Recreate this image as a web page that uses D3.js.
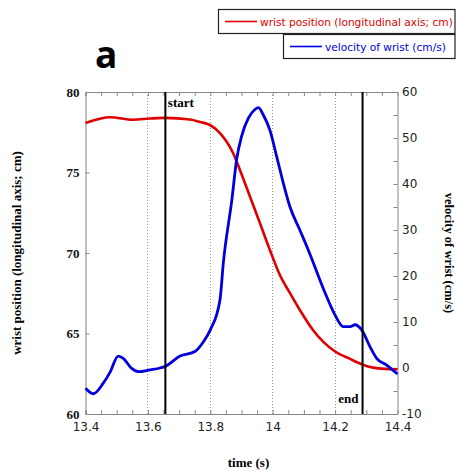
<!DOCTYPE html>
<html>
<head>
<meta charset="utf-8">
<script src="https://cdn.jsdelivr.net/npm/d3@7"></script>
<style>
body { margin: 0; background: #fff; }
svg { display: block; }
</style>
</head>
<body>
<div id="chart"></div>
<script>

// wrist position (cm)
var posTime = [13.400, 13.479, 13.552, 13.607, 13.655, 13.735, 13.767, 13.799, 13.831, 13.873,
               13.895, 13.927, 13.959, 13.991, 14.023, 14.055, 14.087, 14.129, 14.200, 14.248,
               14.287, 14.322, 14.360, 14.400];
var posCm = [78.07, 78.43, 78.28, 78.35, 78.39, 78.29, 78.14, 77.95, 77.45, 76.21,
             75.16, 73.51, 71.86, 70.19, 68.63, 67.52, 66.46, 65.22, 63.88, 63.42,
             63.08, 62.88, 62.80, 62.78];

// wrist velocity (cm/s)
var velTime = [13.400, 13.425, 13.457, 13.478, 13.505, 13.521, 13.548, 13.569, 13.607, 13.639,
               13.657, 13.703, 13.751, 13.778, 13.800, 13.831, 13.842, 13.869, 13.885, 13.900,
               13.922, 13.943, 13.954, 13.970, 13.991, 14.013, 14.034, 14.055, 14.087, 14.115,
               14.162, 14.200, 14.226, 14.248, 14.264, 14.285, 14.312, 14.333, 14.365, 14.400];
var velCms = [-4.4, -5.6, -3.3, -1.0, 2.6, 2.1, -0.1, -0.8, -0.4, 0.0,
              0.4, 2.6, 3.6, 5.7, 8.3, 14.8, 23.0, 36.5, 45.6, 50.3,
              54.3, 56.2, 56.6, 55.0, 51.7, 45.9, 40.2, 35.1, 30.0, 25.5,
              17.3, 11.5, 9.0, 9.0, 9.4, 8.3, 4.6, 2.1, 0.65, -1.3];

var timeTicks = [13.4, 13.6, 13.8, 14, 14.2, 14.4];
var timeLabels = ['13.4', '13.6', '13.8', '14', '14.2', '14.4'];
var gridTimes = [13.6, 13.8, 14, 14.2];
var posTicks = [60, 65, 70, 75, 80];
var velTicks = [-10, 0, 10, 20, 30, 40, 50, 60];
var markTimes = [13.656, 14.288];
var markLabels = ['start', 'end'];
var legendLabels = ['wrist position (longitudinal axis; cm)', 'velocity of wrist (cm/s)'];

var W = 456, H = 473;
var margin = { top: 92, right: 58.5, bottom: 59, left: 85.5 };
var width = W - margin.left - margin.right,
    height = H - margin.top - margin.bottom;

var serif = '"Liberation Serif", "Times New Roman", serif';
var sans = '"DejaVu Sans", Verdana, sans-serif';

var svg = d3.select('#chart').append('svg')
  .attr('width', W)
  .attr('height', H);

var x = d3.scaleLinear().domain([13.4, 14.4]).range([0, width]);
var yL = d3.scaleLinear().domain([60, 80]).range([height, 0]);
var yR = d3.scaleLinear().domain([-10, 60]).range([height, 0]);

var g = svg.append('g')
  .attr('transform', 'translate(' + margin.left + ',' + margin.top + ')');

// dotted gridlines
g.selectAll('.grid')
  .data(gridTimes)
  .enter().append('line')
  .attr('class', 'grid')
  .attr('x1', function(d) { return Math.round(x(d)); })
  .attr('x2', function(d) { return Math.round(x(d)); })
  .attr('y1', 0)
  .attr('y2', height)
  .attr('stroke', '#999')
  .attr('stroke-dasharray', '1,2');

// frame: top and bottom, minor ticks pointing in
g.append('g')
  .call(d3.axisTop(x).ticks(20).tickSizeInner(-4).tickSizeOuter(0).tickFormat(''))
  .call(function(a) { a.selectAll('path, line').attr('stroke', '#888'); });

g.append('g')
  .attr('transform', 'translate(0,' + height + ')')
  .call(d3.axisBottom(x).ticks(20).tickSizeInner(-4).tickSizeOuter(0).tickFormat(''))
  .call(function(a) { a.selectAll('path, line').attr('stroke', '#888'); });

// bottom labels
g.append('g')
  .attr('transform', 'translate(0,' + height + ')')
  .call(d3.axisBottom(x).tickValues(timeTicks).tickSize(0).tickPadding(8.5)
    .tickFormat(function(d, i) { return timeLabels[i]; }))
  .call(function(a) {
    a.select('.domain').remove();
    a.selectAll('text').attr('font-family', sans).attr('font-size', 12).attr('fill', '#222');
  });

// right axis (velocity)
g.append('g')
  .attr('transform', 'translate(' + width + ',0)')
  .call(d3.axisRight(yR).ticks(14).tickSizeInner(-4).tickSizeOuter(0).tickPadding(4.5)
    .tickFormat(function(d) { return velTicks.indexOf(d) >= 0 ? d : ''; }))
  .call(function(a) {
    a.selectAll('path, line').attr('stroke', '#888');
    a.selectAll('text').attr('font-family', sans).attr('font-size', 12).attr('fill', '#222');
  });

// left axis (position)
g.append('g')
  .call(d3.axisLeft(yL).tickValues(posTicks).tickSizeInner(-4).tickSizeOuter(0).tickPadding(6))
  .call(function(a) {
    a.select('.domain').attr('stroke', '#000').attr('stroke-dasharray', '1,1');
    a.selectAll('line').attr('stroke', '#888');
    a.selectAll('text').attr('font-family', serif).attr('font-weight', 'bold')
      .attr('font-size', 13).attr('fill', '#111');
  });

// curves
var posLine = d3.line()
  .x(function(d, i) { return x(posTime[i]); })
  .y(function(d) { return yL(d); })
  .curve(d3.curveMonotoneX);

var velLine = d3.line()
  .x(function(d, i) { return x(velTime[i]); })
  .y(function(d) { return yR(d); })
  .curve(d3.curveMonotoneX);

g.append('path')
  .datum(posCm)
  .attr('d', posLine)
  .attr('fill', 'none')
  .attr('stroke', '#e00000')
  .attr('stroke-width', 2.6);

g.append('path')
  .datum(velCms)
  .attr('d', velLine)
  .attr('fill', 'none')
  .attr('stroke', '#0000dd')
  .attr('stroke-width', 2.8);

// start / end markers
g.selectAll('.mark')
  .data(markTimes)
  .enter().append('line')
  .attr('class', 'mark')
  .attr('x1', function(d) { return x(d); })
  .attr('x2', function(d) { return x(d); })
  .attr('y1', 0)
  .attr('y2', height)
  .attr('stroke', '#000')
  .attr('stroke-width', 2);

g.append('text')
  .attr('x', x(markTimes[0]) + 2.5)
  .attr('y', 14.5)
  .attr('font-family', serif).attr('font-weight', 'bold').attr('font-size', 13)
  .text(markLabels[0]);

g.append('text')
  .attr('x', x(markTimes[1]) - 4)
  .attr('y', height - 11)
  .attr('text-anchor', 'end')
  .attr('font-family', serif).attr('font-weight', 'bold').attr('font-size', 13)
  .text(markLabels[1]);

// axis titles
svg.append('text')
  .attr('transform', 'translate(21,' + (margin.top + height / 2) + ') rotate(-90)')
  .attr('text-anchor', 'middle')
  .attr('font-family', serif).attr('font-weight', 'bold').attr('font-size', 13)
  .text('wrist position (longitudinal axis; cm)');

svg.append('text')
  .attr('transform', 'translate(444.5,' + (margin.top + height / 2) + ') rotate(90)')
  .attr('text-anchor', 'middle')
  .attr('font-family', serif).attr('font-weight', 'bold').attr('font-size', 12.5)
  .text('velocity of wrist (cm/s)');

svg.append('text')
  .attr('x', 248.5)
  .attr('y', 467)
  .attr('text-anchor', 'middle')
  .attr('font-family', serif).attr('font-weight', 'bold').attr('font-size', 13)
  .text('time (s)');

// panel letter
svg.append('text')
  .attr('x', 95)
  .attr('y', 68)
  .attr('font-family', '"Open Sans", sans-serif').attr('font-weight', 'bold').attr('font-size', 37)
  .text('a');

// legend boxes
var legend = [
  { label: legendLabels[0], color: '#e00000', x: 218.5, y: 9.5, h: 24 },
  { label: legendLabels[1], color: '#0000dd', x: 283.5, y: 34.5, h: 24 }
];

var lg = svg.selectAll('.legend')
  .data(legend)
  .enter().append('g')
  .attr('class', 'legend')
  .attr('transform', function(d) { return 'translate(' + d.x + ',' + d.y + ')'; });

lg.append('rect')
  .attr('width', function(d) { return 455 - d.x; })
  .attr('height', function(d) { return d.h; })
  .attr('fill', '#fff')
  .attr('stroke', '#222')
  .attr('stroke-width', 1.2);

lg.append('line')
  .attr('x1', 6.5).attr('x2', 38.5)
  .attr('y1', 12).attr('y2', 12)
  .attr('stroke', function(d) { return d.color; })
  .attr('stroke-width', 1.6);

lg.append('text')
  .attr('x', 41.5)
  .attr('y', 16.3)
  .attr('font-family', sans).attr('font-size', 10.6)
  .attr('fill', function(d) { return d.color; })
  .text(function(d) { return d.label; });

</script>
</body>
</html>
